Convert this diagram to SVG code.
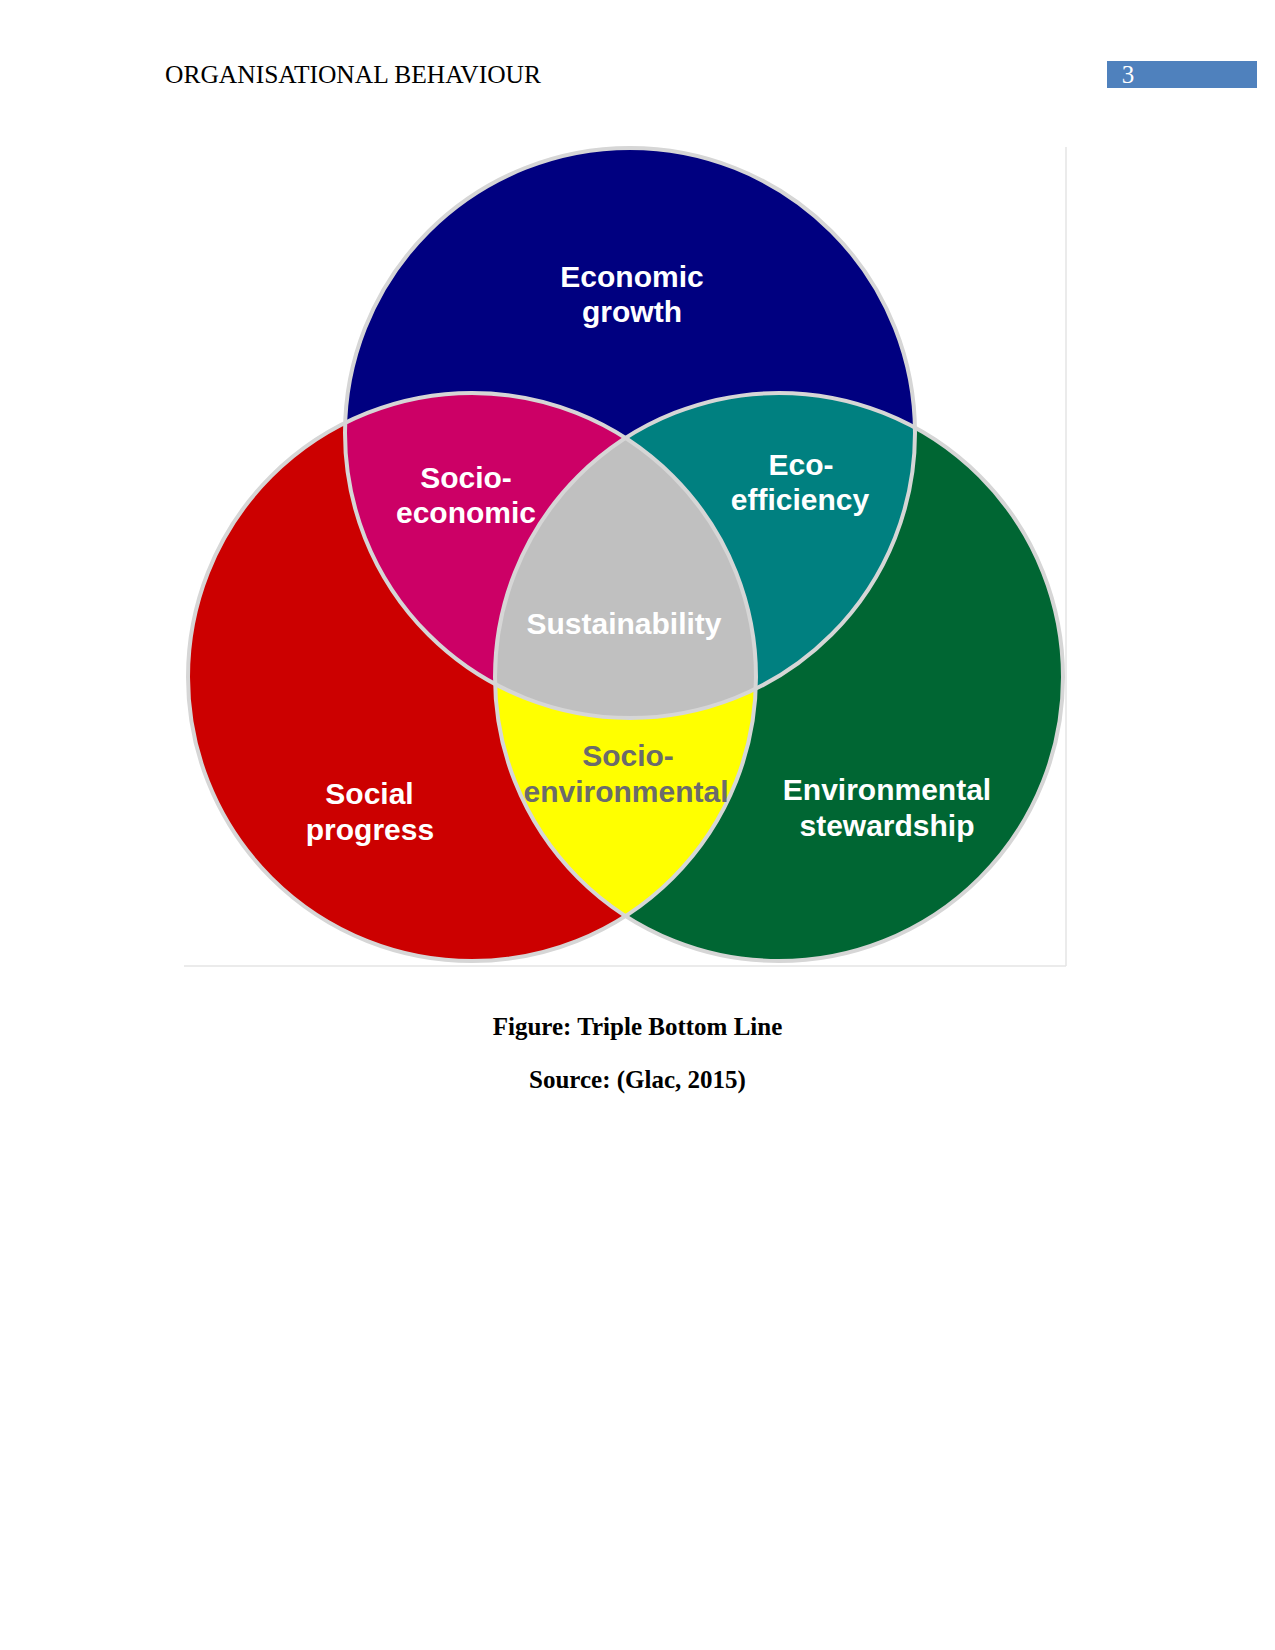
<svg xmlns="http://www.w3.org/2000/svg" width="1275" height="1650" viewBox="0 0 1275 1650">
<style>
.hdr{font-family:"Liberation Serif","Times New Roman",serif;font-size:25px;fill:#000}
.cap{font-family:"Liberation Serif","Times New Roman",serif;font-size:25px;font-weight:bold;fill:#000;text-anchor:middle}
.lbl{font-family:"Liberation Sans",Arial,sans-serif;font-size:30px;font-weight:bold;fill:#fff;text-anchor:middle}
.lblg{font-family:"Liberation Sans",Arial,sans-serif;font-size:30px;font-weight:bold;fill:#6b6b6b;text-anchor:middle}
.ring{fill:none;stroke:#d6d6d6;stroke-width:4}
</style>
<defs>
<clipPath id="cB"><circle cx="630" cy="433" r="285"/></clipPath>
<clipPath id="cR"><circle cx="472" cy="677" r="284"/></clipPath>
<clipPath id="cG"><circle cx="779" cy="677" r="284"/></clipPath>
</defs>
<rect width="1275" height="1650" fill="#fff"/>
<g id="header">
<text class="hdr" x="165" y="83" textLength="376" lengthAdjust="spacingAndGlyphs">ORGANISATIONAL BEHAVIOUR</text>
<rect x="1107" y="61" width="150" height="27" fill="#4f81bd"/>
<text class="hdr" x="1128" y="83" text-anchor="middle" style="fill:#fff">3</text>
</g>
<g id="frame" stroke="#e4e4e4" stroke-width="1.5" fill="none">
<line x1="184" y1="966" x2="1066" y2="966"/>
<line x1="1066" y1="147" x2="1066" y2="966"/>
</g>
<g id="economic-growth">
<circle cx="630" cy="433" r="285" fill="#000080"/>
<text class="lbl" x="632" y="287">Economic</text>
<text class="lbl" x="632" y="322">growth</text>
</g>
<g id="social-progress">
<circle cx="472" cy="677" r="284" fill="#cc0000"/>
<text class="lbl" x="369.5" y="804">Social</text>
<text class="lbl" x="370" y="840">progress</text>
</g>
<g id="environmental-stewardship">
<circle cx="779" cy="677" r="284" fill="#006633"/>
<text class="lbl" x="887" y="800">Environmental</text>
<text class="lbl" x="887" y="836">stewardship</text>
</g>
<g id="socio-economic">
<circle cx="472" cy="677" r="284" fill="#cc0066" clip-path="url(#cB)"/>
</g>
<g id="eco-efficiency">
<circle cx="779" cy="677" r="284" fill="#008080" clip-path="url(#cB)"/>
</g>
<g id="socio-environmental">
<circle cx="779" cy="677" r="284" fill="#ffff00" clip-path="url(#cR)"/>
</g>
<g id="sustainability">
<g clip-path="url(#cB)"><circle cx="779" cy="677" r="284" fill="#c0c0c0" clip-path="url(#cR)"/></g>
</g>
<g id="outlines">
<circle class="ring" cx="630" cy="433" r="285"/>
<circle class="ring" cx="472" cy="677" r="284"/>
<circle class="ring" cx="779" cy="677" r="284"/>
</g>
<g id="labels">
<text class="lbl" x="466" y="488">Socio-</text>
<text class="lbl" x="466" y="523">economic</text>
<text class="lbl" x="801" y="475">Eco-</text>
<text class="lbl" x="800" y="510">efficiency</text>
<text class="lbl" x="624" y="634">Sustainability</text>
<text class="lblg" x="628" y="766">Socio-</text>
<text class="lblg" x="626" y="802">environmental</text>
</g>
<g id="caption">
<text class="cap" x="637.5" y="1035">Figure: Triple Bottom Line</text>
<text class="cap" x="637.5" y="1088">Source: (Glac, 2015)</text>
</g>
</svg>
